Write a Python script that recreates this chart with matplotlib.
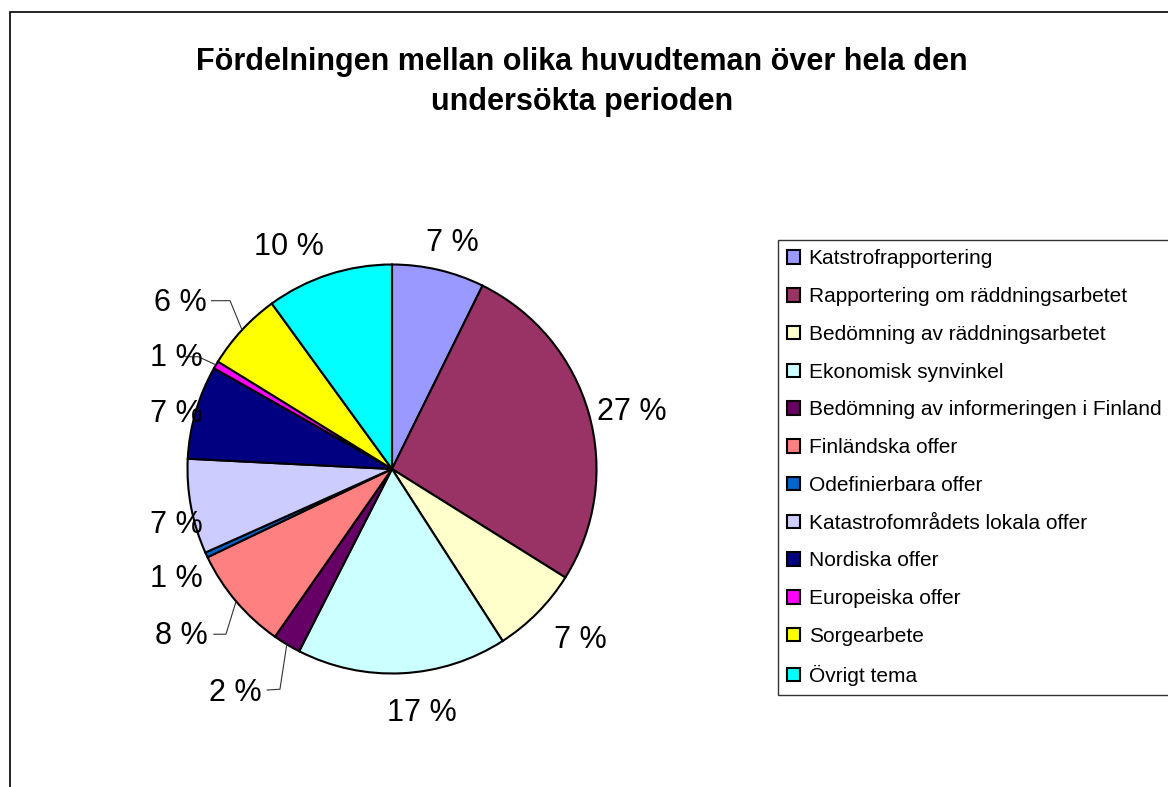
import numpy as np
import matplotlib
matplotlib.use("Agg")
import matplotlib.pyplot as plt
from matplotlib.patches import Rectangle

plt.rcParams['font.family'] = ['Liberation Sans', 'DejaVu Sans']

# ---------------- data ----------------
categories = [
    "Katstrofrapportering",
    "Rapportering om räddningsarbetet",
    "Bedömning av räddningsarbetet",
    "Ekonomisk synvinkel",
    "Bedömning av informeringen i Finland",
    "Finländska offer",
    "Odefinierbara offer",
    "Katastrofområdets lokala offer",
    "Nordiska offer",
    "Europeiska offer",
    "Sorgearbete",
    "Övrigt tema",
]
shares = [7.3, 26.6, 7.0, 16.6, 2.2, 8.2, 0.4, 7.5, 7.4, 0.6, 6.2, 10.0]
pct_labels = ["7 %", "27 %", "7 %", "17 %", "2 %", "8 %", "1 %", "7 %", "7 %", "1 %", "6 %", "10 %"]
colors = ["#9999FF", "#993366", "#FFFFCC", "#CCFFFF", "#660066", "#FF8080",
          "#0066CC", "#CCCCFF", "#000080", "#FF00FF", "#FFFF00", "#00FFFF"]
title = "Fördelningen mellan olika huvudteman över hela den\nundersökta perioden"

# ---------------- layout ----------------
W, H = 1168, 787
CX, CY, R = 392, 469, 204.5   # pie centre / radius in pixels
# label centres in units of pie radius (relative to pie centre)
label_pos = [(0.293, 1.105), (1.174, 0.279), (0.919, -0.836), (0.147, -1.193),
             (-0.765, -1.095), (-1.029, -0.817), (-1.056, -0.538), (-1.056, -0.274),
             (-1.056, 0.269), (-1.056, 0.544), (-1.037, 0.812), (-0.504, 1.085)]
# leader lines: index -> (elbow, end) in radius units
leaders = {
    4: ((-0.548, -1.077), (-0.613, -1.081)),
    5: ((-0.812, -0.808), (-0.874, -0.808)),
    9: ((-0.947, 0.549), (-1.012, 0.549)),
    10: ((-0.792, 0.823), (-0.885, 0.823)),
}

fig = plt.figure(figsize=(W / 100, H / 100), dpi=100)
ax = fig.add_axes([0, 0, 1, 1])

wedges, _ = ax.pie(shares, colors=colors, startangle=90, counterclock=False,
                   wedgeprops=dict(edgecolor="black", linewidth=1.5))
ax.set_aspect("auto")
ax.set_xlim(-CX / R, (W - CX) / R)
ax.set_ylim((CY - H) / R, CY / R)
ax.axis("off")

for i, (lab, (x, y)) in enumerate(zip(pct_labels, label_pos)):
    ax.text(x, y, lab, ha="center", va="center", fontsize=22, color="black")

for i, (elbow, end) in leaders.items():
    w = wedges[i]
    mid = np.deg2rad((w.theta1 + w.theta2) / 2)
    sx, sy = np.cos(mid), np.sin(mid)
    ax.plot([sx, elbow[0], end[0]], [sy, elbow[1], end[1]], color="#333333",
            linewidth=0.8, solid_capstyle="butt")

fig.text(582 / W, 1 - 82 / H, title, ha="center", va="center", fontsize=22,
         fontweight="bold", linespacing=1.42)

leg = fig.legend(wedges, categories, loc="upper left",
                 bbox_to_anchor=(778 / W, 1 - 240 / H), borderaxespad=0,
                 fontsize=15, handlelength=0.62, handleheight=0.62,
                 handletextpad=0.4, labelspacing=0.9, borderpad=0.45,
                 fancybox=False, frameon=True, edgecolor="black")
leg.get_frame().set_linewidth(1.0)
for h in leg.legend_handles:
    h.set_linewidth(1.5)

fig.patches.append(Rectangle((9.5 / W, -0.1), 2, (H - 12.3) / H + 0.1,
                             transform=fig.transFigure, fill=False,
                             edgecolor="black", linewidth=1.2))

fig.savefig("out.png", dpi=100, facecolor="white")
